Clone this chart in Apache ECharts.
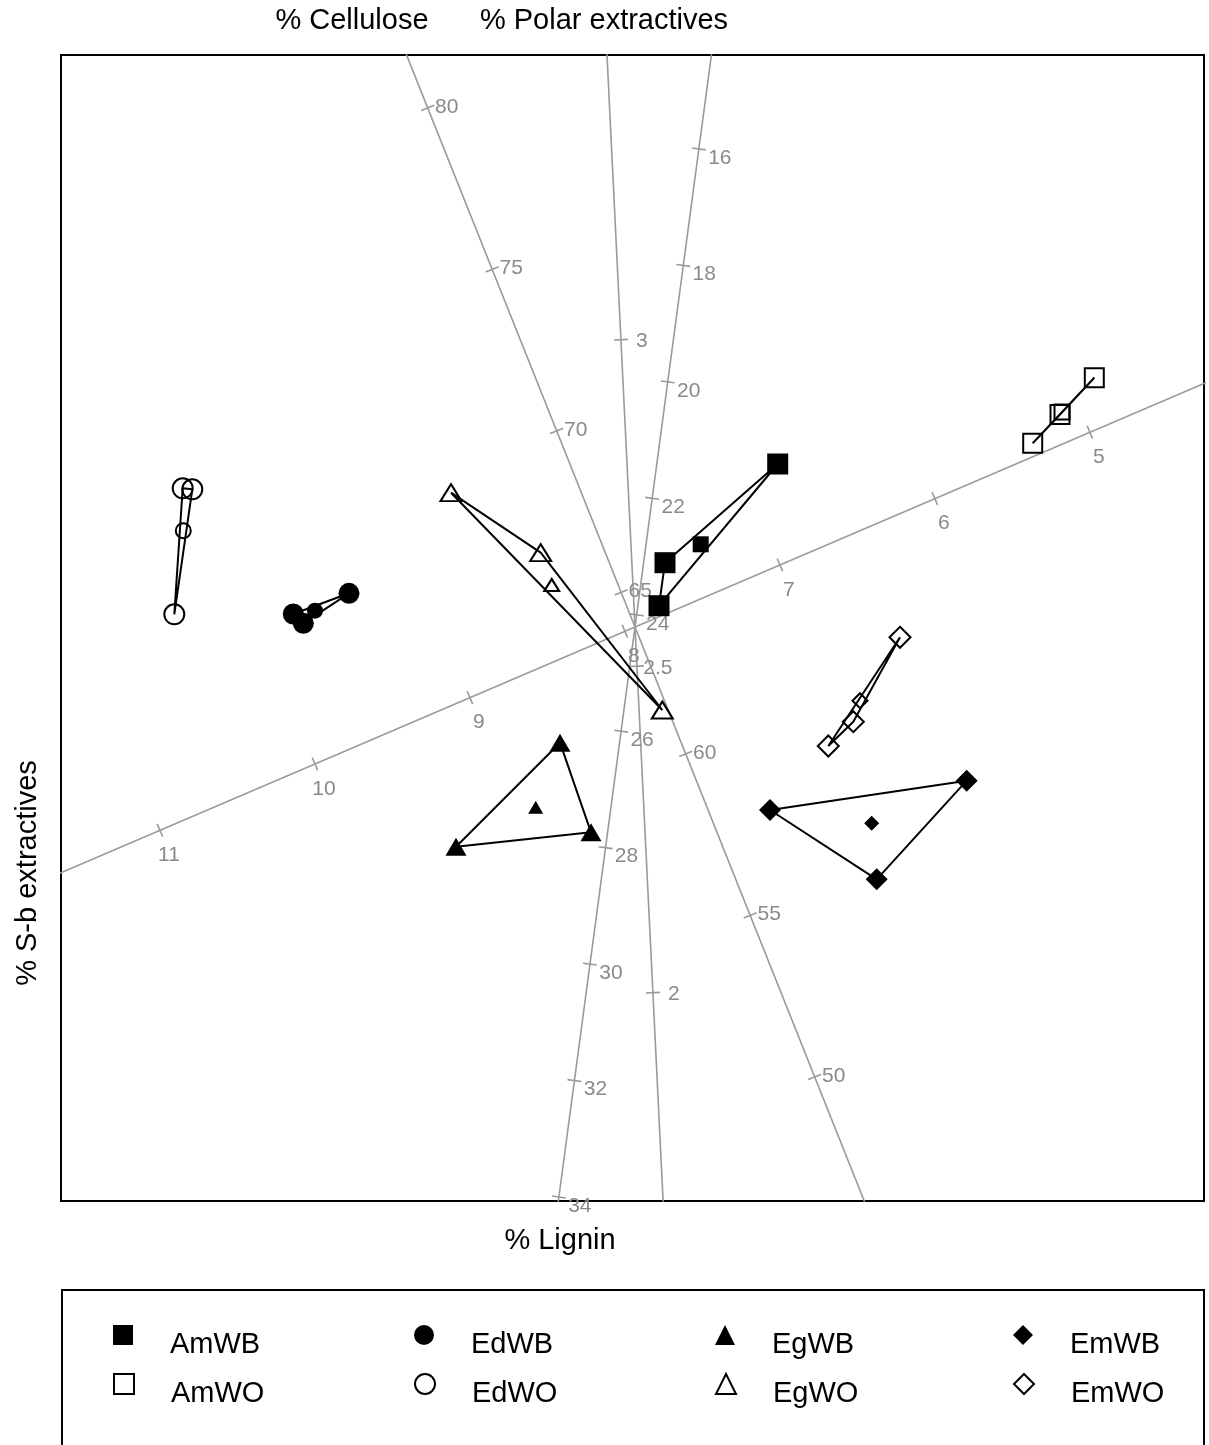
<!DOCTYPE html>
<html>
<head>
<meta charset="utf-8">
<title>Wood composition biplot</title>
<script src="https://cdn.jsdelivr.net/npm/echarts@6/dist/echarts.min.js"></script>
<style>
  html, body { margin: 0; padding: 0; background: #fff; }
  #chart { width: 1209px; height: 1445px; }
</style>
</head>
<body>
<div id="chart"></div>
<script>
// ---- Calibrated biplot axes --------------------------------------------
// value at the biplot centre, plot units per 1 % step, unit direction of increase
const axisNames  = ['% Lignin', '% Cellulose', '% Polar extractives', '% S-b extractives'];
const axisCentre = [24.21, 63.93, 2.56, 7.935];
const axisScale  = [0.5874, 0.3478, 6.538, 1.686];
const axisDir    = [[-0.1324, -0.9912], [-0.3709, 0.9287], [-0.0489, 0.9988], [-0.9193, -0.3934]];

// tick labels on each calibrated axis
const ligninTicks    = [16, 18, 20, 22, 24, 26, 28, 30, 32, 34];
const celluloseTicks = [50, 55, 60, 65, 70, 75, 80];
const polarTicks     = [2, 2.5, 3];
const sbTicks        = [5, 6, 7, 8, 9, 10, 11];

// ---- Sample scores (biplot coordinates): three samples + group mean -----
const groupNames = ['AmWB', 'AmWO', 'EdWB', 'EdWO', 'EgWB', 'EgWO', 'EmWB', 'EmWO'];

const AmWB_points = [[1.427, 1.630], [0.300, 0.643], [0.240, 0.213]];
const AmWB_mean   = [0.657, 0.827];
const AmWO_points = [[4.593, 2.493], [4.250, 2.125], [3.977, 1.837]];
const AmWO_mean   = [4.270, 2.150];
const EdWB_points = [[-3.417, 0.130], [-3.317, 0.037], [-2.860, 0.337]];
const EdWB_mean   = [-3.200, 0.163];
const EdWO_points = [[-4.523, 1.387], [-4.427, 1.377], [-4.607, 0.127]];
const EdWO_mean   = [-4.517, 0.963];
const EgWB_points = [[-0.750, -1.157], [-0.440, -2.053], [-1.790, -2.197]];
const EgWB_mean   = [-0.993, -1.803];
const EgWO_points = [[-1.840, 1.343], [-0.943, 0.743], [0.273, -0.830]];
const EgWO_mean   = [-0.833, 0.420];
const EmWB_points = [[3.317, -1.537], [1.350, -1.830], [2.417, -2.523]];
const EmWB_mean   = [2.367, -1.963];
const EmWO_points = [[2.650, -0.103], [2.183, -0.947], [1.933, -1.190]];
const EmWO_mean   = [2.250, -0.737];

// ---- Styling ------------------------------------------------------------
const FONT = '"Liberation Sans", Arial, Helvetica, sans-serif';
const AXIS_GREY = '#9a9a9a';
const LABEL_GREY = '#8a8a8a';

const groupData = {
  AmWB: [AmWB_points, AmWB_mean], AmWO: [AmWO_points, AmWO_mean],
  EdWB: [EdWB_points, EdWB_mean], EdWO: [EdWO_points, EdWO_mean],
  EgWB: [EgWB_points, EgWB_mean], EgWO: [EgWO_points, EgWO_mean],
  EmWB: [EmWB_points, EmWB_mean], EmWO: [EmWO_points, EmWO_mean]
};

// symbol, filled?, sample size, mean size
const groupStyle = {
  AmWB: { symbol: 'rect',     filled: true,  size: 21,       meanSize: 16 },
  AmWO: { symbol: 'rect',     filled: false, size: 19,       meanSize: 15 },
  EdWB: { symbol: 'circle',   filled: true,  size: 21,       meanSize: 16 },
  EdWO: { symbol: 'circle',   filled: false, size: 20,       meanSize: 15 },
  EgWB: { symbol: 'triangle', filled: true,  size: [21, 18], meanSize: [15, 13] },
  EgWO: { symbol: 'triangle', filled: false, size: [21, 17], meanSize: [15, 12] },
  EmWB: { symbol: 'diamond',  filled: true,  size: [22, 22], meanSize: [15, 15] },
  EmWO: { symbol: 'diamond',  filled: false, size: [21, 21], meanSize: [15, 15] }
};

// tick-label offset in pixels from each tick, per axis
const labelOffset = [[21, 9], [19, -1], [21, 2], [9, 25]];

// ---- Build the chart ----------------------------------------------------
const axisTicks = [ligninTicks, celluloseTicks, polarTicks, sbTicks];

function axisPoint(i, v) {
  const d = (v - axisCentre[i]) * axisScale[i];
  return [d * axisDir[i][0], d * axisDir[i][1]];
}

const series = [];

// axis lines, running right across the plot region (clipped by the grid)
axisNames.forEach(function (name, i) {
  const far = 14;
  series.push({
    type: 'line',
    name: name + ' axis',
    data: [[-far * axisDir[i][0], -far * axisDir[i][1]], [far * axisDir[i][0], far * axisDir[i][1]]],
    showSymbol: false,
    symbol: 'none',
    clip: true,
    silent: true,
    lineStyle: { color: AXIS_GREY, width: 1.6 },
    z: 1
  });
});

// tick marks and calibration labels
const tickData = [];
axisTicks.forEach(function (ticks, i) {
  ticks.forEach(function (v) {
    const p = axisPoint(i, v);
    tickData.push([p[0], p[1], i, v]);
  });
});
series.push({
  type: 'custom',
  name: 'axis ticks',
  silent: true,
  data: tickData,
  z: 2,
  renderItem: function (params, api) {
    const p = api.coord([api.value(0), api.value(1)]);
    const i = api.value(2);
    const v = api.value(3);
    const dir = axisDir[i];
    // perpendicular to the axis in screen space
    const nx = dir[1], ny = dir[0];
    const half = 7;
    return {
      type: 'group',
      children: [
        {
          type: 'line',
          shape: { x1: p[0] - nx * half, y1: p[1] - ny * half, x2: p[0] + nx * half, y2: p[1] + ny * half },
          style: { stroke: AXIS_GREY, lineWidth: 1.6 }
        },
        {
          type: 'text',
          x: p[0] + labelOffset[i][0],
          y: p[1] + labelOffset[i][1],
          style: {
            text: String(v),
            fill: LABEL_GREY,
            font: '21px ' + FONT,
            align: 'center',
            verticalAlign: 'middle'
          }
        }
      ]
    };
  }
});

// group outlines (closed triangles through the three samples)
groupNames.forEach(function (g) {
  const pts = groupData[g][0];
  series.push({
    type: 'line',
    name: g + ' outline',
    data: pts.concat([pts[0]]),
    symbol: 'none',
    showSymbol: false,
    silent: true,
    lineStyle: { color: '#000', width: 2 },
    z: 3
  });
});

function markerStyle(st) {
  return st.filled
    ? { color: '#000', borderColor: '#000', borderWidth: 0, opacity: 1 }
    : { color: 'rgba(0,0,0,0)', borderColor: '#000', borderWidth: 2, opacity: 1 };
}

// sample markers and the (smaller) group mean marker
groupNames.forEach(function (g) {
  const st = groupStyle[g];
  const pts = groupData[g][0];
  const mean = groupData[g][1];
  const data = pts.map(function (p) { return { value: p, symbolSize: st.size }; });
  data.push({ value: mean, symbolSize: st.meanSize });
  series.push({
    type: 'scatter',
    name: g,
    symbol: st.symbol,
    data: data,
    itemStyle: markerStyle(st),
    emphasis: { disabled: true },
    z: 5
  });
});

// legend: two rows by four columns inside a framed box
const legendCols = [123, 424, 725, 1023];
const legendRows = [1314, 1363];
const legendOrder = [['AmWB', 'AmWO'], ['EdWB', 'EdWO'], ['EgWB', 'EgWO'], ['EmWB', 'EmWO']];
const legends = [];
legendOrder.forEach(function (col, c) {
  col.forEach(function (g, r) {
    const st = groupStyle[g];
    legends.push({
      data: [g],
      left: legendCols[c] - 10,
      top: legendRows[r],
      padding: 0,
      orient: 'vertical',
      selectedMode: false,
      itemWidth: 20,
      itemHeight: 20,
      itemStyle: markerStyle(st),
      formatter: '{g| }\n{t|{name}}',
      textStyle: {
        fontFamily: FONT,
        fontSize: 29,
        color: '#000',
        padding: [0, 0, 0, 32],
        rich: {
          g: { fontSize: 10, lineHeight: 20 },
          t: { fontFamily: FONT, fontSize: 29, lineHeight: 32, color: '#000' }
        }
      }
    });
  });
});

const titleStyle = { font: '29px ' + FONT, fill: '#000', align: 'center', verticalAlign: 'middle' };

const option = {
  animation: false,
  backgroundColor: '#fff',
  grid: {
    left: 61, top: 55, width: 1143, height: 1146,
    show: true, borderColor: '#000', borderWidth: 2, backgroundColor: 'rgba(0,0,0,0)'
  },
  xAxis: { type: 'value', min: -5.74, max: 5.69, show: false },
  yAxis: { type: 'value', min: -5.74, max: 5.72, show: false },
  legend: legends,
  series: series,
  graphic: [
    { type: 'text', x: 352, y: 21, style: Object.assign({ text: axisNames[1] }, titleStyle) },
    { type: 'text', x: 604, y: 21, style: Object.assign({ text: axisNames[2] }, titleStyle) },
    { type: 'text', x: 560, y: 1241, style: Object.assign({ text: axisNames[0] }, titleStyle) },
    { type: 'text', x: 28, y: 873, rotation: Math.PI / 2, style: Object.assign({ text: axisNames[3] }, titleStyle) },
    {
      type: 'rect',
      shape: { x: 62, y: 1290, width: 1142, height: 220 },
      style: { fill: 'none', stroke: '#000', lineWidth: 2 },
      silent: true
    }
  ]
};

const chart = echarts.init(document.getElementById('chart'), null, { renderer: 'canvas' });
chart.setOption(option);
</script>
</body>
</html>
